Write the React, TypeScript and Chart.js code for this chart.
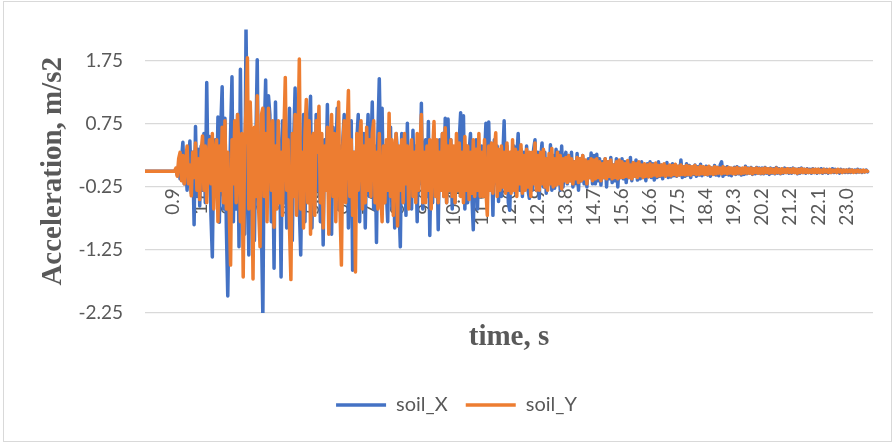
import React, { useEffect, useRef } from "react";
import { Chart, registerables } from "chart.js";

Chart.register(...registerables);

// sampling of the record (s) and samples between labelled ticks
const SAMPLE_STEP = 0.046;
const SAMPLES_PER_LABEL = 20;

// soil_X acceleration, m/s2 (20 samples per 0.92 s block)
const SOIL_X = [
  0, 0, 0, 0, 0, 0, 0, 0, 0, 0, 0, 0, 0, 0, 0, 0, 0, 0, 0, 0,
  0, 0, 0.02, -0.06, 0.1, -0.12, 0.18, 0.46, -0.2, 0.25, -0.3, 0.15, 0.48, -0.35, 0.3, -0.85, 0.71, -0.4, 0.35, -0.55,
  0.4, -0.3, 0.6, -0.5, 1.41, -0.2, 0.55, -0.7, -1.36, 0.3, 0.5, -0.4, 0.86, -0.81, 0.7, 1.34, -0.6, 0.84, -0.9, -1.98,
  -0.5, 0.6, 1.5, -0.8, 0.4, -0.6, 0.9, -1.2, 1.62, -0.7, 0.5, -1.0, 2.27, 0.3, -1.33, 0.8, -0.5, 0.6, -1.1, 0.4,
  1.77, -0.6, 0.3, -0.9, -2.31, 0.6, 1.45, -0.3, 1.2, 0.9, -0.8, 0.4, -1.54, 1.1, -0.4, 0.7, 0.2, -1.68, 0.8, -0.5,
  0.6, -0.9, 0.3, 1.0, -0.7, -1.1, 0.5, 1.32, -0.4, 0.8, -0.6, -1.33, 0.2, 0.9, -0.8, 0.5, -0.3, 0.7, 1.19, -0.9,
  0.4, -0.6, 0.9, -0.3, 0.6, -0.8, 0.3, -1.17, 0.5, -0.2, 1.06, -0.5, 0.3, -1.0, 0.7, -0.4, 0.2, 1.0, -0.6, 0.4,
  -0.7, 0.5, 0.9, -0.3, 0.6, -0.9, 0.4, 0.8, -1.57, 0.3, -0.6, 0.5, 0.9, -0.8, 0.2, -0.5, 0.6, -0.9, 0.3, 0.9,
  -0.4, 0.3, 1.1, -0.6, 0.4, -1.13, 0.6, 1.47, 0.2, 1.0, -0.5, 0.4, -0.3, -0.8, 0.5, 0.7, -0.6, 0.3, -0.9, 0.6,
  0.3, -0.5, -1.2, 0.6, -0.3, 0.5, -0.7, 0.76, -0.4, 0.2, -0.6, 0.65, -0.3, 0.4, -0.8, 0.5, -0.2, 1.08, -0.6, 0.3,
  0.5, -0.4, 0.79, -1.02, 0.3, -0.5, 0.6, -0.3, 0.4, -0.93, 0.5, -0.2, 0.6, -0.4, 0.84, -0.5, 0.83, -0.3, 0.5, -0.6,
  0.3, -0.5, 0.4, -0.2, 0.5, 0.93, -0.3, 0.88, -0.6, 0.4, -0.5, 0.3, 0.6, -0.4, -0.93, 0.2, 0.5, -0.6, 0.3, -0.4,
  0.4, -0.3, 0.2, 0.76, -0.4, 0.78, -0.3, 0.3, -0.7, 0.5, -0.2, 0.4, -0.48, 0.3, -0.4, 0.2, 0.8, -0.3, 0.4, -0.5,
  -0.62, 0.3, -0.2, 0.4, -0.35, 0.2, 0.6, -0.3, 0.35, -0.4, 0.3, -0.2, 0.4, -0.3, -0.43, 0.25, -0.3, 0.35, 0.5, -0.3,
  0.3, -0.43, 0.2, 0.45, -0.25, 0.3, -0.35, 0.2, -0.2, 0.42, -0.3, 0.25, -0.27, 0.35, -0.2, 0.3, -0.3, 0.4, -0.25, 0.2,
  0.3, -0.2, 0.25, -0.15, 0.3, -0.25, 0.15, -0.2, 0.28, -0.3, 0.2, -0.15, 0.25, -0.2, 0.15, -0.25, 0.2, -0.1, 0.29, -0.2,
  0.25, -0.2, 0.27, -0.15, 0.2, -0.22, 0.15, -0.1, 0.2, -0.25, 0.15, -0.12, 0.22, -0.18, 0.1, -0.15, 0.2, -0.25, 0.12, -0.1,
  0.2, -0.12, 0.15, -0.18, 0.1, -0.1, 0.22, -0.15, 0.12, -0.08, 0.18, -0.14, 0.1, -0.12, 0.15, -0.1, 0.08, -0.15, 0.12, -0.08,
  0.15, -0.1, 0.12, -0.14, 0.08, -0.1, 0.15, -0.08, 0.1, -0.12, 0.09, -0.06, 0.14, -0.1, 0.07, -0.09, 0.12, -0.07, 0.1, -0.08,
  0.08, -0.06, 0.18, -0.1, 0.07, -0.08, 0.12, -0.06, 0.09, -0.1, 0.06, -0.05, 0.1, -0.08, 0.07, -0.06, 0.11, -0.07, 0.06, -0.05,
  0.08, -0.06, 0.07, -0.08, 0.05, -0.05, 0.09, -0.06, 0.06, -0.07, 0.1, 0.15, -0.08, 0.06, -0.05, 0.07, -0.06, 0.05, -0.07, 0.04,
  0.06, -0.05, 0.07, -0.04, 0.05, -0.06, 0.04, -0.05, 0.08, -0.04, 0.05, -0.03, 0.06, -0.05, 0.04, -0.04, 0.06, -0.03, 0.05, -0.04,
  0.05, -0.04, 0.06, -0.03, 0.04, -0.05, 0.05, -0.03, 0.04, -0.04, 0.06, -0.03, 0.04, -0.04, 0.03, -0.03, 0.05, -0.02, 0.04, -0.03,
  0.04, -0.03, 0.05, -0.02, 0.03, -0.04, 0.04, -0.03, 0.05, -0.02, 0.03, -0.03, 0.04, -0.02, 0.03, -0.03, 0.04, -0.02, 0.03, -0.03,
  0.03, -0.02, 0.04, -0.03, 0.03, -0.02, 0.03, -0.03, 0.02, -0.02, 0.04, -0.02, 0.03, -0.02, 0.02, -0.03, 0.03, -0.02, 0.02, -0.02,
  0.02, -0.02, 0.03, -0.02, 0.02, -0.01, 0.02, -0.02, 0.03, -0.01, 0.02, -0.02, 0.01, -0.01, 0.02, -0.01,
];

// soil_Y acceleration, m/s2
const SOIL_Y = [
  0, 0, 0, 0, 0, 0, 0, 0, 0, 0, 0, 0, 0, 0, 0, 0, 0, 0, 0, 0,
  0, 0, 0.05, -0.08, 0.2, 0.3, -0.15, 0.25, -0.2, 0.15, 0.4, -0.2, 0.1, -0.39, 0.3, -0.1, 0.45, -0.3, 0.2, -0.45,
  0.3, 0.56, -0.3, 0.4, -0.5, 0.2, 0.5, -0.2, 0.6, -0.6, 0.3, 0.5, -0.8, 0.4, -0.3, 0.7, -0.5, 0.8, -0.6, 0.3,
  -0.6, -1.49, 0.5, -0.2, 0.8, -0.5, 0.9, 0.3, -0.8, 0.6, -1.68, 0.4, 1.0, 1.8, -0.6, 1.1, 0.3, -1.71, 0.7, -0.4,
  1.2, -0.6, -1.2, 0.9, 1.0, -0.4, 0.6, -0.8, 1.0, 0.5, -0.3, 0.8, -0.89, 0.4, -0.6, 0.8, -0.5, 0.3, -0.7, 0.6,
  1.49, -0.3, 0.5, -0.9, -1.72, 0.6, -0.4, 0.9, -0.7, 0.4, 1.78, -0.6, 0.3, -0.9, 0.6, 1.14, -0.5, 0.8, -1.0, 0.5,
  0.6, -0.7, 0.8, 0.3, 1.03, -0.5, 0.6, -0.9, 0.4, -0.3, 0.7, -1.0, 0.5, 0.9, -0.4, 0.6, -0.8, 0.3, 1.1, -0.6,
  -1.49, 0.4, 0.8, -0.5, 0.6, 1.28, -0.4, 0.5, -0.7, 0.3, -1.6, 0.6, -0.3, 0.5, 0.8, -0.6, 0.4, -0.5, 0.7, -0.3,
  0.5, -0.4, 0.6, 0.8, -0.5, 0.3, -0.6, 0.6, -0.3, -0.8, 0.4, -0.5, 0.5, -0.3, 0.92, -0.4, 0.5, -0.7, 0.3, 0.6,
  -0.87, 0.4, -0.3, 0.5, -0.5, 0.6, -0.2, 0.4, -0.6, 0.3, 0.5, -0.4, 0.3, -0.5, 0.6, -0.3, 0.4, 0.9, -0.5, 0.3,
  -0.5, 0.4, -0.3, 0.5, -0.6, 0.3, 0.79, -0.4, 0.5, -0.5, 0.3, -0.3, 0.6, -0.4, 0.69, -0.5, 0.4, -0.3, 0.5, -0.4,
  0.4, -0.5, 0.6, -0.3, 0.45, -0.4, 0.3, -0.5, 0.55, -0.3, 0.4, -0.45, 0.3, -0.35, 0.5, -0.4, 0.35, -0.3, 0.6, -0.4,
  0.3, -0.4, 0.5, -0.3, -0.7, 0.4, -0.3, 0.45, -0.35, 0.3, 0.61, -0.4, 0.35, -0.3, 0.4, -0.25, 0.3, -0.35, 0.45, -0.3,
  0.3, -0.35, 0.5, -0.3, 0.35, -0.4, 0.3, -0.2, 0.42, -0.35, 0.25, -0.3, 0.35, -0.25, 0.3, -0.4, 0.3, -0.2, 0.45, -0.3,
  0.25, -0.3, 0.3, -0.2, 0.35, -0.25, 0.2, -0.3, 0.28, -0.2, 0.36, -0.25, 0.2, -0.22, 0.3, -0.2, 0.25, -0.28, 0.2, -0.15,
  0.22, -0.18, 0.25, -0.15, 0.2, -0.2, 0.15, -0.12, 0.22, -0.18, 0.2, -0.15, 0.25, -0.12, 0.18, -0.2, 0.15, -0.1, 0.2, -0.15,
  0.18, -0.12, 0.2, -0.1, 0.15, -0.15, 0.12, -0.1, 0.2, -0.12, 0.15, -0.08, 0.18, -0.12, 0.1, -0.1, 0.15, -0.12, 0.18, -0.1,
  0.15, -0.1, 0.12, -0.08, 0.17, -0.1, 0.1, -0.12, 0.14, -0.08, 0.12, -0.1, 0.15, -0.07, 0.1, -0.1, 0.12, -0.08, 0.1, -0.09,
  0.12, -0.08, 0.1, -0.06, 0.13, -0.08, 0.09, -0.07, 0.1, -0.06, 0.12, -0.08, 0.08, -0.06, 0.1, -0.07, 0.09, -0.05, 0.11, -0.07,
  0.08, -0.06, 0.1, -0.05, 0.07, -0.06, 0.09, -0.05, 0.08, -0.06, 0.07, -0.04, 0.09, -0.05, 0.06, -0.05, 0.08, -0.04, 0.07, -0.05,
  0.06, -0.05, 0.08, -0.04, 0.05, -0.05, 0.07, -0.04, 0.06, -0.03, 0.05, -0.04, 0.07, -0.03, 0.05, -0.04, 0.06, -0.03, 0.05, -0.04,
  0.05, -0.04, 0.06, -0.03, 0.04, -0.04, 0.05, -0.03, 0.06, -0.03, 0.04, -0.03, 0.05, -0.04, 0.04, -0.02, 0.05, -0.03, 0.04, -0.03,
  0.04, -0.03, 0.05, -0.02, 0.04, -0.03, 0.04, -0.02, 0.03, -0.03, 0.05, -0.02, 0.03, -0.03, 0.04, -0.02, 0.03, -0.02, 0.04, -0.02,
  0.03, -0.02, 0.04, -0.02, 0.03, -0.03, 0.03, -0.02, 0.04, -0.02, 0.03, -0.02, 0.03, -0.02, 0.02, -0.02, 0.03, -0.02, 0.03, -0.02,
  0.03, -0.02, 0.02, -0.02, 0.03, -0.01, 0.02, -0.02, 0.03, -0.02, 0.02, -0.01, 0.02, -0.02, 0.03, -0.01, 0.02, -0.02, 0.02, -0.01,
  0.02, -0.01, 0.02, -0.01, 0.02, -0.02, 0.01, -0.01, 0.02, -0.01, 0.01, -0.01, 0.02, -0.01, 0.01, 0,
];

const SERIES_NAMES = ["soil_X", "soil_Y"];
const SERIES_COLORS = ["#4472C4", "#ED7D31"];

const X_TICK_LABELS = [
  "0.9", "1.8", "2.8", "3.7", "4.6", "5.5", "6.4", "7.4", "8.3", "9.2", "10.1", "11.0", "12.0",
  "12.9", "13.8", "14.7", "15.6", "16.6", "17.5", "18.4", "19.3", "20.2", "21.2", "22.1", "23.0",
];
const Y_TICKS = [-2.25, -1.25, -0.25, 0.75, 1.75];
const Y_MIN = -2.25;
const Y_MAX = 2.25;
const X_MAX = 23.87;

const X_TITLE = "time, s";
const Y_TITLE = "Acceleration, m/s2";

const TICK_FONT = { family: "Lato", size: 19 };
const LEGEND_FONT = { family: "Lato", size: 20 };
const TITLE_FONT = { family: "Liberation Serif", size: 29, weight: "bold" };
const TEXT_GREY = "#595959";

export default function App() {
  const ref = useRef<HTMLCanvasElement | null>(null);

  useEffect(() => {
    const canvas = ref.current;
    if (!canvas) return;
    const toPoints = (arr: number[]) => arr.map((v, i) => ({ x: i * SAMPLE_STEP, y: v }));
    const lineStyle = {
      borderWidth: 3.5,
      pointRadius: 0,
      tension: 0,
      borderJoinStyle: "round",
      borderCapStyle: "round",
    };
    const chart = new Chart(canvas, {
      type: "line",
      data: {
        datasets: [
          {
            label: SERIES_NAMES[0],
            data: toPoints(SOIL_X),
            borderColor: SERIES_COLORS[0],
            backgroundColor: SERIES_COLORS[0],
            ...lineStyle,
            order: 1,
          },
          {
            label: SERIES_NAMES[1],
            data: toPoints(SOIL_Y),
            borderColor: SERIES_COLORS[1],
            backgroundColor: SERIES_COLORS[1],
            ...lineStyle,
            order: 0,
          },
        ],
      },
      options: {
        animation: false,
        responsive: false,
        devicePixelRatio: 1,
        layout: { padding: { left: 40, right: 22, top: 29.5, bottom: 17 } },
        scales: {
          x: {
            type: "linear",
            min: 0,
            max: X_MAX,
            position: { y: 0 },
            grid: { display: false, drawTicks: false },
            border: { display: false },
            afterBuildTicks: (scale: any) => {
              scale.ticks = X_TICK_LABELS.map((_, k) => ({
                value: (k + 1) * SAMPLES_PER_LABEL * SAMPLE_STEP,
              }));
            },
            ticks: {
              autoSkip: false,
              minRotation: 90,
              maxRotation: 90,
              padding: 17,
              color: TEXT_GREY,
              font: TICK_FONT,
              callback: (_v: any, i: number) => X_TICK_LABELS[i],
            },
          },
          y: {
            min: Y_MIN,
            max: Y_MAX,
            afterBuildTicks: (scale: any) => {
              scale.ticks = Y_TICKS.map((v) => ({ value: v }));
            },
            afterFit: (scale: any) => {
              scale.width = 105;
              scale.paddingTop = 0;
              scale.paddingBottom = 0;
            },
            grid: { color: "#d9d9d9", lineWidth: 1.3, drawTicks: false },
            border: { display: false },
            ticks: {
              padding: 22,
              color: TEXT_GREY,
              font: TICK_FONT,
              callback: (v: any) => Number(v).toFixed(2),
            },
            title: {
              display: true,
              text: Y_TITLE,
              color: TEXT_GREY,
              font: TITLE_FONT,
              padding: { top: -4, bottom: 0 },
            },
          },
        },
        plugins: {
          title: {
            display: true,
            text: X_TITLE,
            position: "bottom",
            fullSize: false,
            weight: 500,
            color: TEXT_GREY,
            font: TITLE_FONT,
            padding: { top: 7, bottom: 22.2 },
          },
          legend: {
            position: "bottom",
            labels: {
              usePointStyle: true,
              pointStyle: "line",
              pointStyleWidth: 50,
              padding: 18,
              color: TEXT_GREY,
              font: LEGEND_FONT,
              sort: (a: any, b: any) => a.datasetIndex - b.datasetIndex,
            },
          },
          tooltip: { enabled: false },
        },
      } as any,
    });
    return () => chart.destroy();
  }, []);

  return (
    <div style={{ position: "absolute", left: 0, top: 0, width: 895, height: 442, background: "#fff" }}>
      <canvas ref={ref} width={895} height={442} style={{ position: "absolute", left: 0, top: 0 }} />
      <div
        style={{
          position: "absolute",
          left: 3,
          top: 1,
          width: 889,
          height: 441,
          boxSizing: "border-box",
          border: "1px solid #d9d9d9",
          pointerEvents: "none",
        }}
      />
    </div>
  );
}
